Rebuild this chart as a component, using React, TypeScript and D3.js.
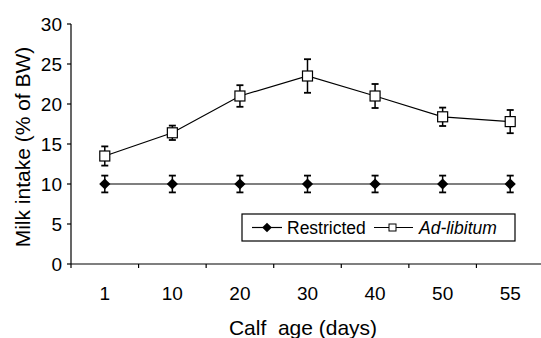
import React, { useEffect, useRef } from 'react';
import * as d3 from 'd3';

const days = ['1', '10', '20', '30', '40', '50', '55'];
const restricted = [10, 10, 10, 10, 10, 10, 10];
const restrictedErr = [1.05, 1.05, 1.05, 1.05, 1.05, 1.05, 1.05];
const adLibitum = [13.5, 16.4, 21.0, 23.5, 21.0, 18.4, 17.8];
const adLibitumErr = [1.2, 0.9, 1.35, 2.1, 1.5, 1.15, 1.45];
const yTicks = [0, 5, 10, 15, 20, 25, 30];

export default function App() {
    const ref = useRef<SVGSVGElement>(null);

    useEffect(() => {
        const width = 541;
        const height = 338;
        const margin = { top: 24, right: -3, bottom: 74, left: 71 };
        const w = width - margin.left - margin.right;
        const h = height - margin.top - margin.bottom;
        const font = 'Liberation Sans, Arial, sans-serif';

        const root = d3.select(ref.current);
        root.selectAll('*').remove();
        const svg = root.append('g').attr('transform', 'translate(' + margin.left + ',' + margin.top + ')');

        const x = d3.scaleBand().domain(days).range([0, w]);
        const y = d3.scaleLinear().domain([0, 30]).range([h, 0]);
        const cx = (d: string) => (x(d) as number) + x.bandwidth() / 2;

        // x axis
        const xAxis = svg.append('g').attr('transform', 'translate(0,' + h + ')');
        xAxis.append('line').attr('x1', 0).attr('x2', w).attr('stroke', '#000').attr('stroke-width', 1.2);
        xAxis
            .selectAll('.tk')
            .data(d3.range(days.length))
            .enter()
            .append('line')
            .attr('x1', (i) => i * x.step())
            .attr('x2', (i) => i * x.step())
            .attr('y1', 0)
            .attr('y2', 4)
            .attr('stroke', '#000')
            .attr('stroke-width', 1.2);
        xAxis
            .selectAll('text')
            .data(days)
            .enter()
            .append('text')
            .attr('x', (d) => cx(d))
            .attr('y', 36)
            .attr('text-anchor', 'middle')
            .attr('font-family', font)
            .attr('font-size', 19)
            .text((d) => d);

        // y axis
        const yAxis = svg.append('g');
        yAxis.append('line').attr('y1', 0).attr('y2', h).attr('stroke', '#000').attr('stroke-width', 1.2);
        yAxis
            .selectAll('line.tk')
            .data(yTicks)
            .enter()
            .append('line')
            .attr('class', 'tk')
            .attr('x1', -4)
            .attr('x2', 0)
            .attr('y1', (d) => y(d))
            .attr('y2', (d) => y(d))
            .attr('stroke', '#000')
            .attr('stroke-width', 1.2);
        yAxis
            .selectAll('text')
            .data(yTicks)
            .enter()
            .append('text')
            .attr('x', -9)
            .attr('y', (d) => y(d))
            .attr('dy', '0.36em')
            .attr('text-anchor', 'end')
            .attr('font-family', font)
            .attr('font-size', 19)
            .text((d) => d);

        // titles
        svg.append('text')
            .attr('transform', 'translate(-41,' + (147 - margin.top) + ') rotate(-90)')
            .attr('text-anchor', 'middle')
            .attr('font-family', font)
            .attr('font-size', 21)
            .text('Milk intake (% of BW)');
        svg.append('text')
            .attr('x', 303 - margin.left)
            .attr('y', 335 - margin.top)
            .attr('text-anchor', 'middle')
            .attr('font-family', font)
            .attr('font-size', 21)
            .style('white-space', 'pre')
            .text('Calf  age (days)');

        const line = d3
            .line<number>()
            .x((_, i) => cx(days[i]))
            .y((d) => y(d));

        const drawSeries = (vals: number[], errs: number[], square: boolean) => {
            const g = svg.append('g');
            g.append('path').attr('d', line(vals)).attr('fill', 'none').attr('stroke', '#000').attr('stroke-width', 1.2);
            vals.forEach((v, i) => {
                const px = cx(days[i]);
                const t = y(v + errs[i]);
                const b = y(v - errs[i]);
                g.append('line').attr('x1', px).attr('x2', px).attr('y1', t).attr('y2', b).attr('stroke', '#000').attr('stroke-width', 1.5);
                [t, b].forEach((yy) =>
                    g.append('line').attr('x1', px - 3.5).attr('x2', px + 3.5).attr('y1', yy).attr('y2', yy).attr('stroke', '#000').attr('stroke-width', 1.8)
                );
                if (square) {
                    g.append('rect').attr('x', px - 5).attr('y', y(v) - 5).attr('width', 10).attr('height', 10).attr('fill', '#fff').attr('stroke', '#000').attr('stroke-width', 1.2);
                } else {
                    g.append('path')
                        .attr('d', d3.symbol(d3.symbolDiamond2, 80)())
                        .attr('transform', 'translate(' + px + ',' + y(v) + ')')
                        .attr('fill', '#000');
                }
            });
        };
        drawSeries(restricted, restrictedErr, false);
        drawSeries(adLibitum, adLibitumErr, true);

        // legend
        const lg = root.append('g').attr('transform', 'translate(242,214)');
        lg.append('rect').attr('width', 273).attr('height', 27).attr('fill', '#fff').attr('stroke', '#000').attr('stroke-width', 1.2);
        lg.append('line').attr('x1', 10).attr('x2', 40).attr('y1', 13.5).attr('y2', 13.5).attr('stroke', '#000').attr('stroke-width', 1.2);
        lg.append('path').attr('d', d3.symbol(d3.symbolDiamond2, 60)()).attr('transform', 'translate(25,13.5)').attr('fill', '#000');
        lg.append('text').attr('x', 45).attr('y', 13.5).attr('dy', '0.36em').attr('font-family', font).attr('font-size', 17.5).text('Restricted');
        lg.append('line').attr('x1', 132).attr('x2', 171).attr('y1', 13.5).attr('y2', 13.5).attr('stroke', '#000').attr('stroke-width', 1.2);
        lg.append('rect').attr('x', 147).attr('y', 10).attr('width', 7).attr('height', 7).attr('fill', '#fff').attr('stroke', '#000').attr('stroke-width', 1);
        lg.append('text').attr('x', 177).attr('y', 13.5).attr('dy', '0.36em').attr('font-family', font).attr('font-size', 17.5).attr('font-style', 'italic').text('Ad-libitum');
    }, []);

    return <svg ref={ref} width={541} height={338} style={{ position: 'absolute', left: 0, top: 0, background: '#fff' }} />;
}
